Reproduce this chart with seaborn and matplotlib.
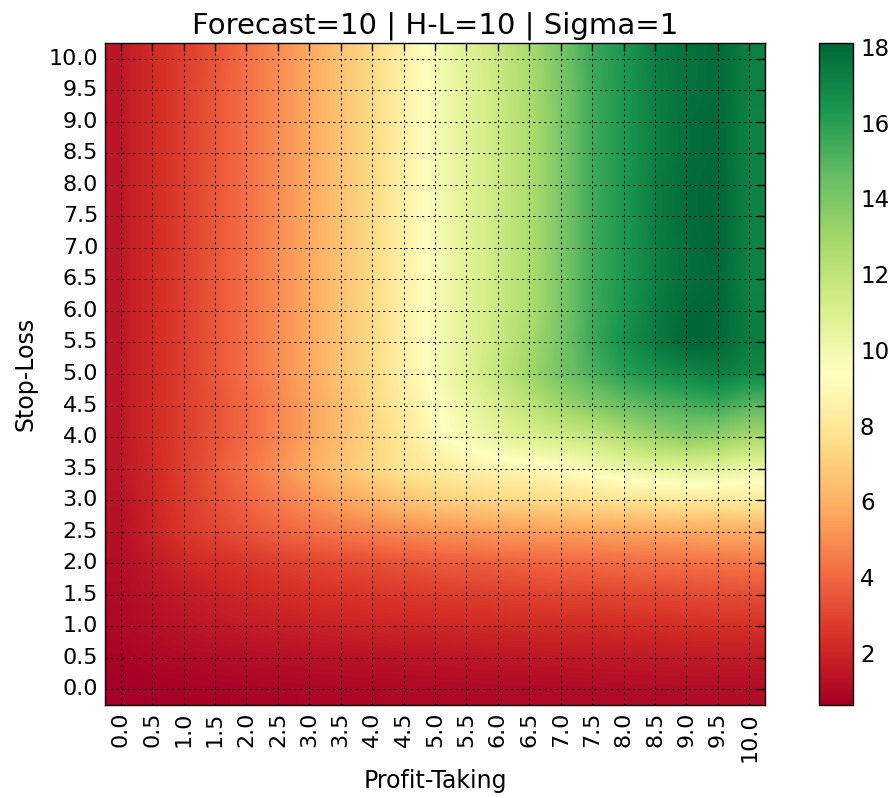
import numpy as np
import pandas as pd
import matplotlib
matplotlib.use("Agg")
import matplotlib.pyplot as plt
import seaborn as sns

# grid of barrier levels (same for profit-taking and stop-loss)
levels = [0.0, 0.5, 1.0, 1.5, 2.0, 2.5, 3.0, 3.5, 4.0, 4.5, 5.0,
          5.5, 6.0, 6.5, 7.0, 7.5, 8.0, 8.5, 9.0, 9.5, 10.0]

# Sharpe ratio per stop-loss level, columns follow profit-taking levels
sl_00 = [0.62, 0.70, 0.75, 0.80, 0.85, 0.88, 0.90, 0.93, 0.95, 0.98, 1.00, 1.01, 1.03, 1.04, 1.05, 1.07, 1.08, 1.09, 1.10, 1.10, 1.11]
sl_05 = [0.80, 0.95, 1.05, 1.12, 1.20, 1.25, 1.30, 1.33, 1.36, 1.39, 1.42, 1.45, 1.48, 1.50, 1.52, 1.54, 1.56, 1.58, 1.60, 1.62, 1.64]
sl_10 = [0.97, 1.20, 1.40, 1.55, 1.65, 1.75, 1.85, 1.92, 1.98, 2.03, 2.08, 2.12, 2.15, 2.18, 2.20, 2.22, 2.25, 2.28, 2.31, 2.34, 2.37]
sl_15 = [1.06, 1.35, 1.64, 1.86, 2.07, 2.22, 2.37, 2.47, 2.56, 2.64, 2.72, 2.79, 2.86, 2.90, 2.94, 3.00, 3.05, 3.10, 3.14, 3.20, 3.28]
sl_20 = [1.15, 1.60, 2.07, 2.32, 2.56, 2.78, 3.00, 3.14, 3.28, 3.43, 3.58, 3.68, 3.77, 3.86, 3.95, 4.02, 4.09, 4.15, 4.21, 4.29, 4.37]
sl_25 = [1.25, 1.90, 2.56, 3.00, 3.42, 3.80, 4.15, 4.42, 4.68, 4.90, 5.09, 5.23, 5.37, 5.43, 5.49, 5.56, 5.63, 5.70, 5.77, 5.84, 5.91]
sl_30 = [1.32, 2.00, 2.72, 3.30, 3.86, 4.56, 5.09, 5.63, 6.08, 6.61, 6.96, 7.13, 7.31, 7.41, 7.55, 7.68, 7.85, 7.96, 8.08, 8.10, 8.24]
sl_35 = [1.50, 2.10, 2.80, 3.50, 4.30, 5.10, 5.90, 6.60, 7.30, 7.90, 8.30, 8.60, 8.80, 9.00, 9.30, 9.80, 10.30, 10.60, 10.80, 10.70, 10.30]
sl_40 = [1.50, 2.20, 2.80, 3.40, 4.00, 4.80, 5.60, 6.40, 7.20, 8.00, 9.10, 9.80, 10.50, 11.00, 11.40, 11.80, 12.50, 13.20, 13.60, 13.40, 12.80]
sl_45 = [1.50, 2.20, 2.80, 3.40, 4.00, 4.80, 5.60, 6.40, 7.30, 8.30, 9.30, 10.30, 11.20, 12.10, 13.00, 13.80, 14.50, 15.00, 15.30, 15.60, 14.90]
sl_50 = [1.50, 2.20, 2.80, 3.50, 4.20, 5.00, 5.80, 6.60, 7.40, 8.50, 9.70, 10.80, 11.90, 13.00, 14.20, 15.20, 16.00, 16.50, 16.90, 17.30, 16.90]
sl_55 = [1.50, 2.20, 2.80, 3.50, 4.20, 5.00, 5.80, 6.60, 7.40, 8.50, 9.70, 10.70, 11.70, 12.80, 14.10, 15.60, 16.60, 17.40, 18.10, 18.00, 17.30]
sl_60 = [1.50, 2.20, 2.80, 3.50, 4.20, 5.00, 5.80, 6.60, 7.40, 8.50, 9.70, 10.70, 11.60, 12.60, 14.00, 15.50, 16.40, 17.30, 18.00, 18.10, 17.20]
sl_65 = [1.50, 2.20, 2.80, 3.50, 4.20, 5.00, 5.80, 6.60, 7.40, 8.50, 9.70, 10.70, 11.60, 12.60, 14.00, 15.50, 16.30, 17.20, 17.80, 18.00, 17.10]
sl_70 = [1.50, 2.20, 2.80, 3.50, 4.20, 5.00, 5.80, 6.60, 7.40, 8.50, 9.70, 10.70, 11.60, 12.60, 14.00, 15.50, 16.30, 17.20, 17.80, 18.10, 17.10]
sl_75 = [1.50, 2.20, 2.80, 3.50, 4.20, 5.00, 5.80, 6.60, 7.40, 8.50, 9.70, 10.70, 11.60, 12.60, 14.00, 15.50, 16.30, 17.30, 17.90, 18.10, 17.10]
sl_80 = [1.50, 2.20, 2.80, 3.50, 4.20, 5.00, 5.80, 6.60, 7.40, 8.50, 9.70, 10.70, 11.60, 12.60, 14.00, 15.50, 16.30, 17.30, 17.90, 18.10, 17.10]
sl_85 = [1.50, 2.20, 2.80, 3.50, 4.20, 5.00, 5.80, 6.60, 7.40, 8.50, 9.70, 10.70, 11.60, 12.60, 14.00, 15.50, 16.30, 17.20, 17.80, 18.00, 17.10]
sl_90 = [1.50, 2.20, 2.80, 3.50, 4.20, 5.00, 5.80, 6.60, 7.40, 8.50, 9.70, 10.70, 11.60, 12.60, 14.00, 15.50, 16.30, 17.20, 17.80, 18.00, 17.10]
sl_95 = [1.50, 2.20, 2.80, 3.50, 4.20, 5.00, 5.80, 6.60, 7.40, 8.50, 9.70, 10.70, 11.60, 12.70, 14.00, 15.50, 16.30, 17.20, 17.70, 17.90, 17.20]
sl_100 = [1.50, 2.20, 2.80, 3.40, 4.20, 5.00, 5.80, 6.60, 7.40, 8.50, 9.80, 10.80, 11.70, 12.70, 14.10, 15.60, 16.30, 17.30, 17.70, 17.90, 17.20]

cbar_ticks = [2, 4, 6, 8, 10, 12, 14, 16, 18]
tick_labels = [f"{v:.1f}" for v in levels]

rows = [sl_00, sl_05, sl_10, sl_15, sl_20, sl_25, sl_30, sl_35, sl_40, sl_45, sl_50,
        sl_55, sl_60, sl_65, sl_70, sl_75, sl_80, sl_85, sl_90, sl_95, sl_100]

sns.set_style("white", {"xtick.direction": "in", "ytick.direction": "in",
                        "text.color": "black", "axes.labelcolor": "black",
                        "xtick.color": "black", "ytick.color": "black"})
plt.rcParams["lines.scale_dashes"] = False

# stop-loss grows upwards, so put the highest level on the first row
grid = pd.DataFrame(np.array(rows), index=levels, columns=levels).iloc[::-1]

fig = plt.figure(figsize=(8.93, 7.98), dpi=100)
ax = fig.add_axes([0.1176, 0.1165, 0.7391, 0.8296])
cax = fig.add_axes([0.9171, 0.1165, 0.0381, 0.8296])

sns.heatmap(grid, cmap="RdYlGn", ax=ax, cbar_ax=cax,
            xticklabels=tick_labels, yticklabels=tick_labels[::-1])

# old-style imshow look: bilinear smoothing between cell centres
mesh = ax.collections[0]
ax.imshow(grid.values, cmap="RdYlGn", norm=mesh.norm, interpolation="bilinear",
          extent=(0, len(levels), len(levels), 0), aspect="auto", zorder=1.5)
ax.set_xlim(0, len(levels))
ax.set_ylim(len(levels), 0)

for s in ax.spines.values():
    s.set_visible(True)
    s.set_color("black")
    s.set_linewidth(1.0)

ax.grid(True, color="black", linestyle=(0, (1.5, 2.5)), linewidth=0.7)
ax.set_axisbelow(False)
ax.tick_params(direction="in", top=True, right=True, length=5.5, width=1,
               color="black", labelcolor="black", labelsize=16, pad=5)
plt.setp(ax.get_xticklabels(), rotation=90)
plt.setp(ax.get_yticklabels(), rotation=0)

ax.set_title("Forecast=10 | H-L=10 | Sigma=1", fontsize=21, pad=7, color="black")
ax.set_xlabel("Profit-Taking", fontsize=17, labelpad=5, color="black")
ax.set_ylabel("Stop-Loss", fontsize=17, labelpad=8, color="black")

cbar = mesh.colorbar
cbar.set_ticks(cbar_ticks)
cbar.outline.set_visible(True)
cbar.outline.set_linewidth(1.0)
cbar.outline.set_edgecolor("black")
cbar.ax.tick_params(direction="in", length=6.5, width=1, color="black",
                    labelcolor="black", labelsize=16.5, right=True, pad=5)

fig.savefig("out.png", dpi=100)
